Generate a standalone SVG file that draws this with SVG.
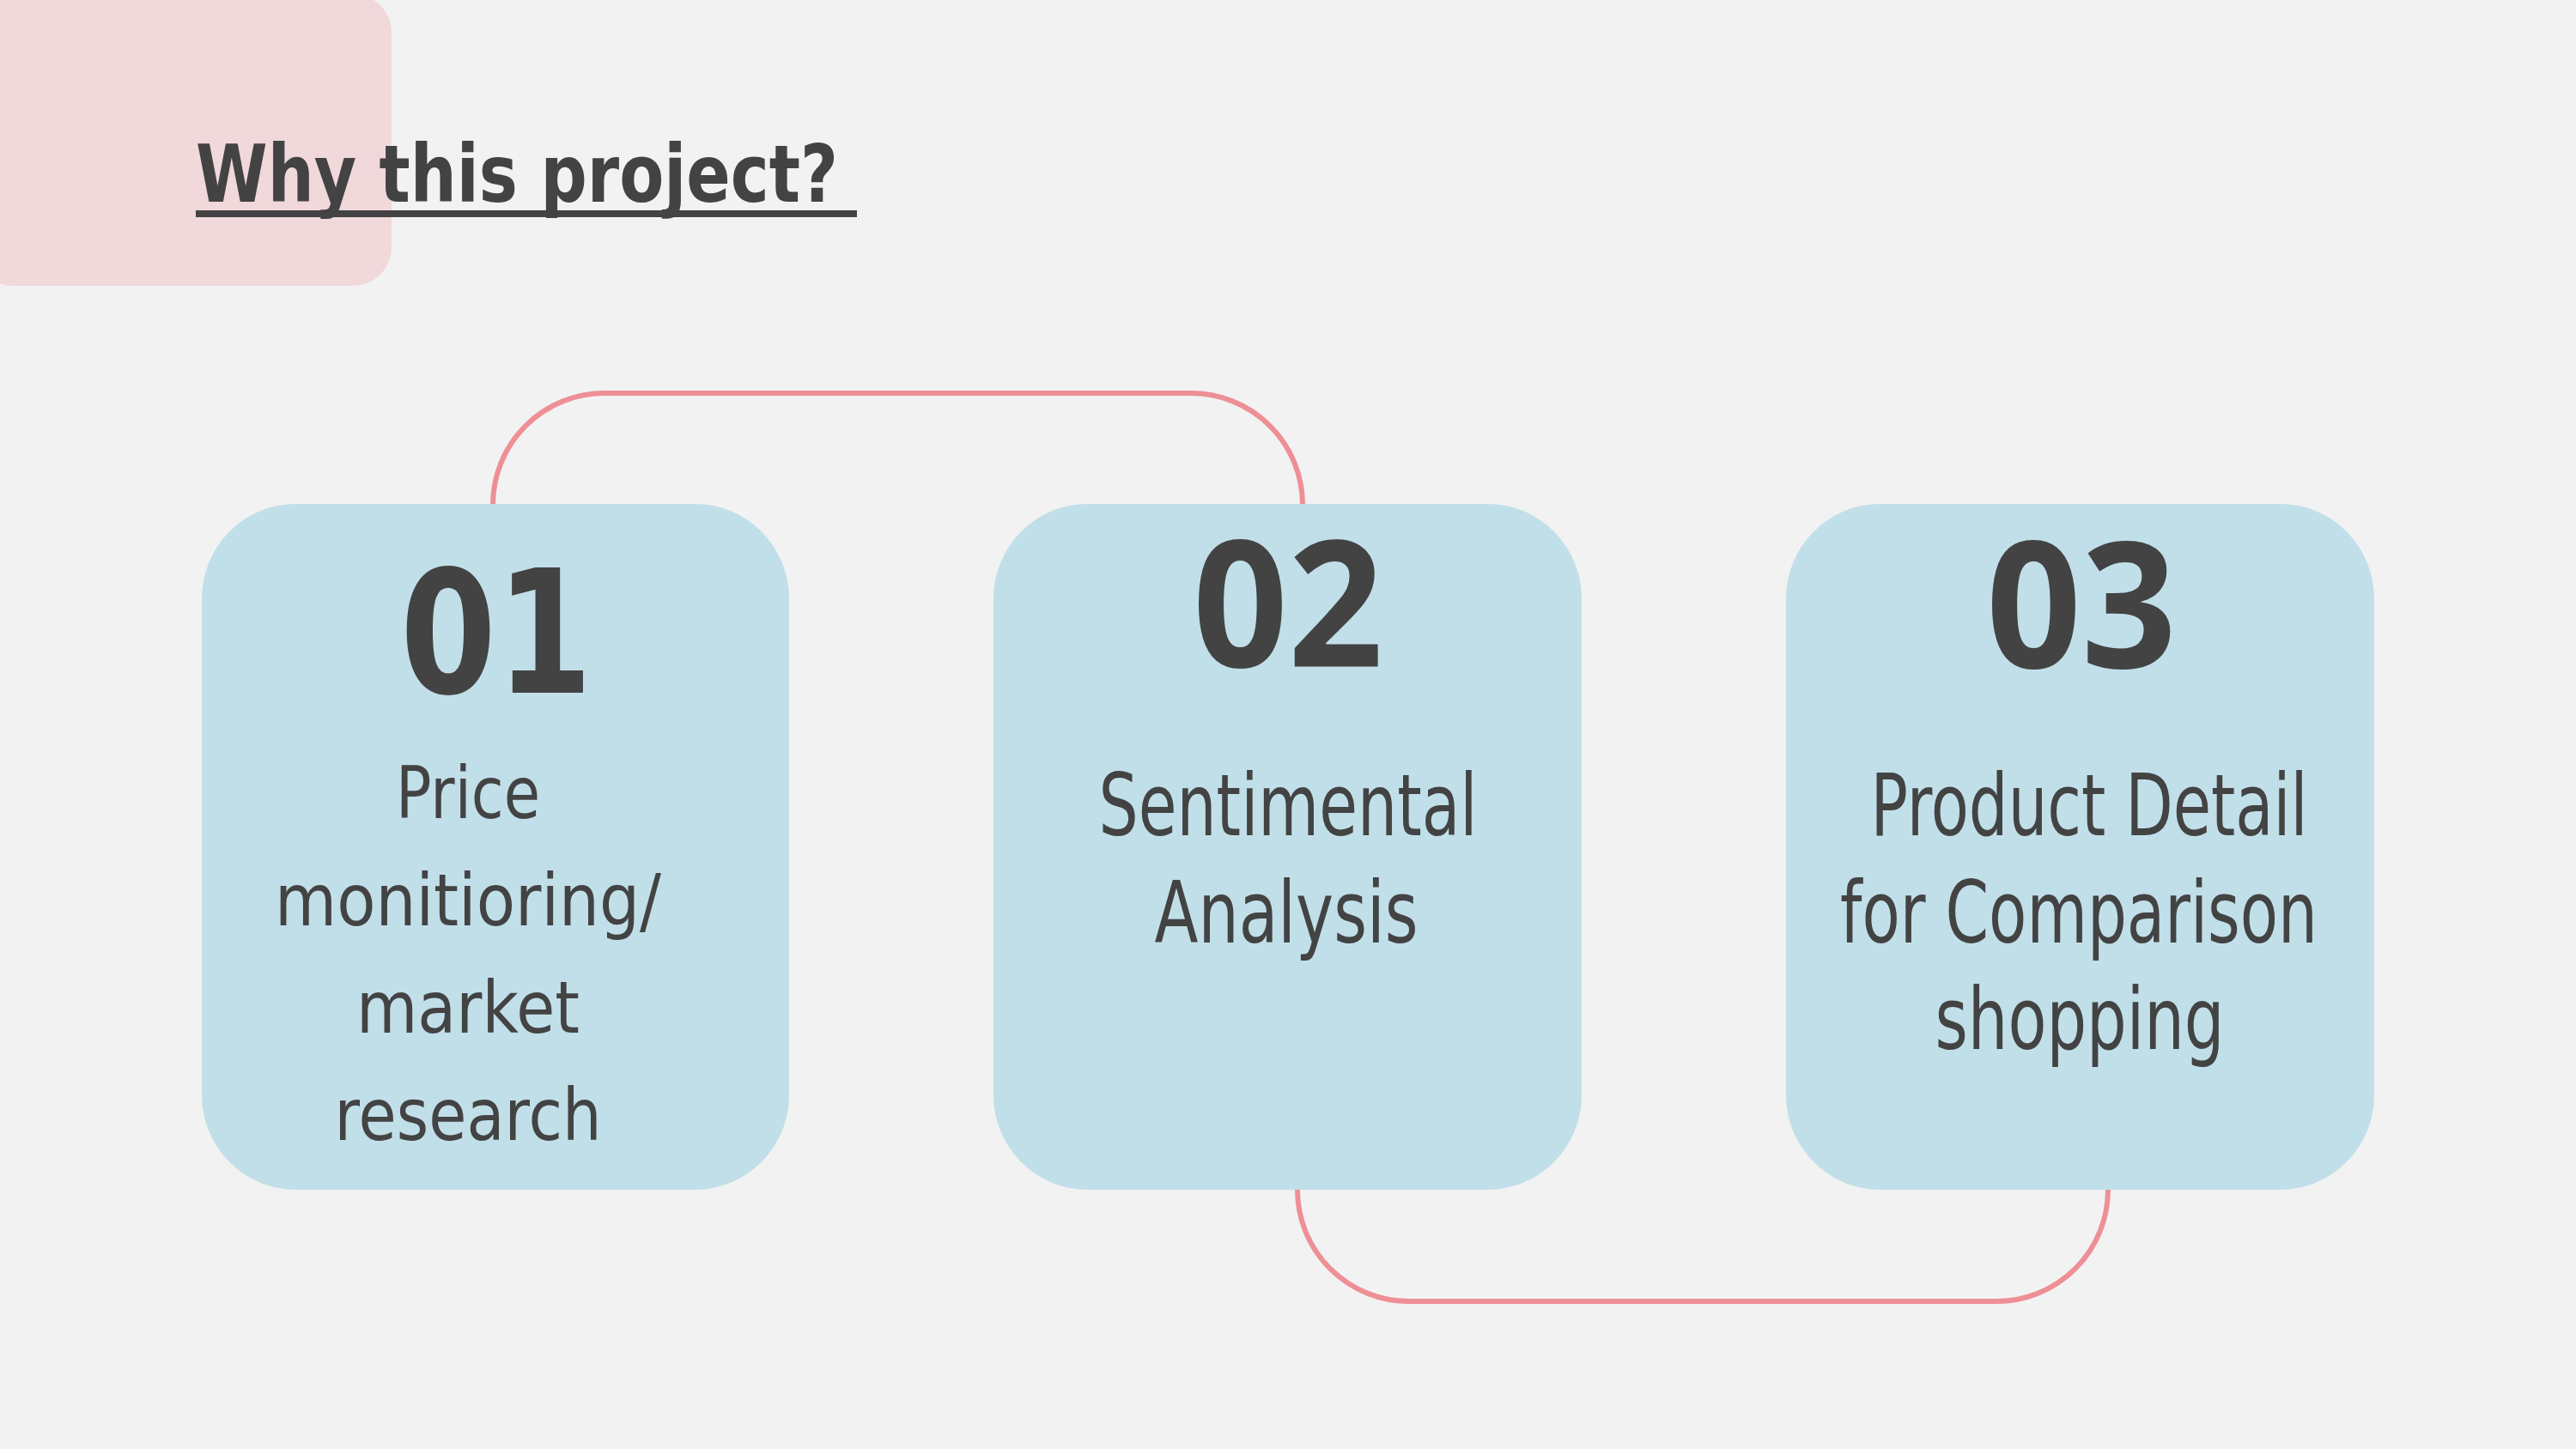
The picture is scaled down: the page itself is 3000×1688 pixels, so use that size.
<svg xmlns="http://www.w3.org/2000/svg" width="3000" height="1688" viewBox="0 0 3000 1688">
<style>
.bg{fill:#f2f2f2}
.box{fill:#c1dfe9}
.conn{fill:none;stroke:#ee8f96;stroke-width:6}
.num1{font-family:"DejaVu Sans",sans-serif;font-weight:bold;font-size:200px;fill:#434343}
.num{font-family:"Open Sans","DejaVu Sans",sans-serif;font-weight:bold;font-size:204px;fill:#434343}
.lbl{font-family:"DejaVu Sans",sans-serif;font-size:99px;fill:#434343}
.lbl1{font-family:"DejaVu Sans",sans-serif;font-size:84px;fill:#434343}
.title{font-family:"DejaVu Sans",sans-serif;font-weight:bold;font-size:93px;fill:#434343}
</style>
<rect class="bg" x="0" y="0" width="3000" height="1688"/>
<rect id="accent" x="-30" y="-7" width="486" height="340" rx="45" fill="#f0d8db"/>
<g id="title">
<text class="title" x="228" y="235" textLength="748" lengthAdjust="spacingAndGlyphs">Why this project?</text>
<rect x="228" y="245" width="770" height="8" fill="#434343"/>
</g>
<g id="connectors">
<path class="conn" d="M574,588 A130,130 0 0 1 704,458 H1387 A130,130 0 0 1 1517,588"/>
<path class="conn" d="M1511,1386 A130,130 0 0 0 1641,1516 H2325 A130,130 0 0 0 2455,1386"/>
</g>
<g id="node1">
<rect class="box" x="235" y="587" width="684" height="799" rx="110"/>
<text class="num1" x="578" y="807" text-anchor="middle" textLength="224" lengthAdjust="spacingAndGlyphs">01</text>
<text class="lbl1" x="545" y="953" text-anchor="middle" textLength="168" lengthAdjust="spacingAndGlyphs">Price</text>
<text class="lbl1" x="545" y="1078" text-anchor="middle" textLength="450" lengthAdjust="spacingAndGlyphs">monitioring/</text>
<text class="lbl1" x="545" y="1203" text-anchor="middle" textLength="260" lengthAdjust="spacingAndGlyphs">market</text>
<text class="lbl1" x="545" y="1328" text-anchor="middle" textLength="311" lengthAdjust="spacingAndGlyphs">research</text>
</g>
<g id="node2">
<rect class="box" x="1157" y="587" width="685" height="799" rx="110"/>
<text class="num" x="1500" y="777" text-anchor="middle" textLength="222" lengthAdjust="spacingAndGlyphs">02</text>
<text class="lbl" x="1500" y="973" text-anchor="middle" textLength="441" lengthAdjust="spacingAndGlyphs">Sentimental</text>
<text class="lbl" x="1498" y="1098" text-anchor="middle" textLength="307" lengthAdjust="spacingAndGlyphs">Analysis</text>
</g>
<g id="node3">
<rect class="box" x="2080" y="587" width="685" height="799" rx="110"/>
<text class="num" x="2424" y="778" text-anchor="middle" textLength="222" lengthAdjust="spacingAndGlyphs">03</text>
<text class="lbl" x="2433" y="973" text-anchor="middle" textLength="509" lengthAdjust="spacingAndGlyphs">Product Detail</text>
<text class="lbl" x="2421" y="1098" text-anchor="middle" textLength="556" lengthAdjust="spacingAndGlyphs">for Comparison</text>
<text class="lbl" x="2422" y="1222" text-anchor="middle" textLength="337" lengthAdjust="spacingAndGlyphs">shopping</text>
</g>
</svg>
